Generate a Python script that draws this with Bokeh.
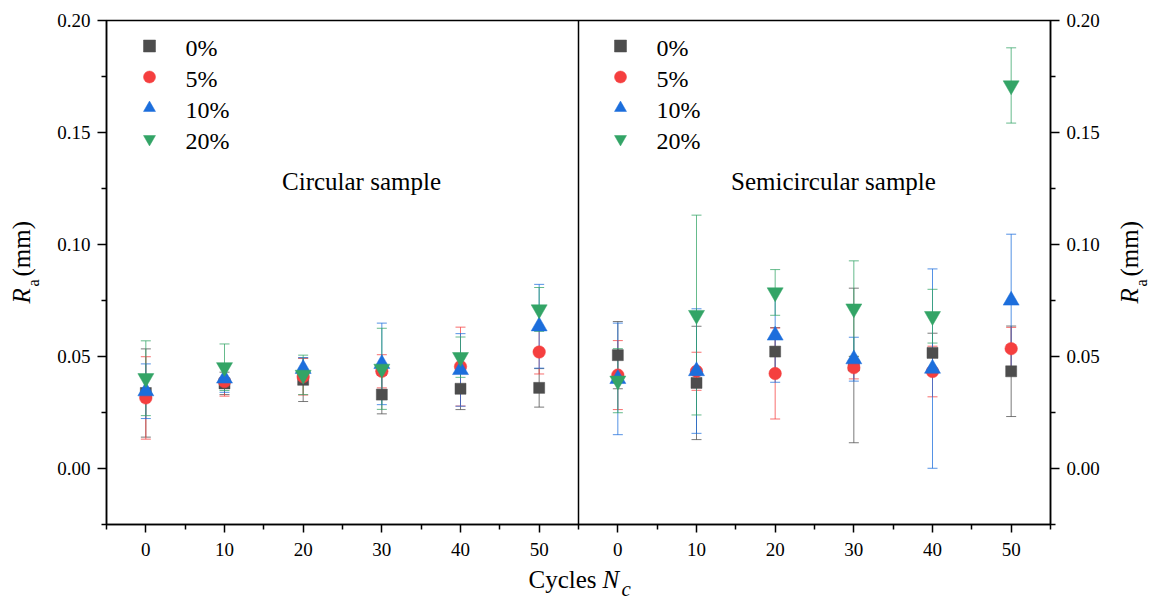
import math
from bokeh.plotting import figure
from bokeh.layouts import row, column
from bokeh.models import (ColumnDataSource, Whisker, TeeHead, Legend, LegendItem, Span, Label,
                          LinearAxis, FixedTicker, PrintfTickFormatter, Range1d)
from bokeh.core.properties import value
from bokeh.embed import file_html
from bokeh.resources import INLINE

# ---------------- data ----------------
cycles = [0, 10, 20, 30, 40, 50]
series_labels = ["0%", "5%", "10%", "20%"]
panel_titles = ["Circular sample", "Semicircular sample"]

# Circular sample: mean Ra (mm) and error (+/-)
circ_0 = [0.0337, 0.0380, 0.0396, 0.0330, 0.0356, 0.0360]
circ_0_err = [0.0197, 0.0050, 0.0097, 0.0086, 0.0093, 0.0086]
circ_5 = [0.0315, 0.0388, 0.0410, 0.0434, 0.0455, 0.0520]
circ_5_err = [0.0184, 0.0065, 0.0082, 0.0074, 0.0176, 0.0098]
circ_10 = [0.0345, 0.0402, 0.0445, 0.0467, 0.0440, 0.0635]
circ_10_err = [0.0122, 0.0062, 0.0050, 0.0182, 0.0162, 0.0187]
circ_20 = [0.0403, 0.0452, 0.0418, 0.0445, 0.0497, 0.0710]
circ_20_err = [0.0167, 0.0104, 0.0088, 0.0181, 0.0090, 0.0098]

# Semicircular sample
semi_0 = [0.0506, 0.0382, 0.0522, 0.0460, 0.0516, 0.0434]
semi_0_err = [0.0150, 0.0253, 0.0107, 0.0345, 0.0088, 0.0202]
semi_5 = [0.0417, 0.0434, 0.0424, 0.0450, 0.0433, 0.0535]
semi_5_err = [0.0154, 0.0085, 0.0203, 0.0050, 0.0113, 0.0095]
semi_10 = [0.0400, 0.0435, 0.0594, 0.0488, 0.0446, 0.0750]
semi_10_err = [0.0249, 0.0278, 0.0209, 0.0098, 0.0445, 0.0296]
semi_20 = [0.0392, 0.0685, 0.0786, 0.0714, 0.0680, 0.1710]
semi_20_err = [0.0143, 0.0446, 0.0102, 0.0213, 0.0120, 0.0168]

y_major_ticks = [0.0, 0.05, 0.10, 0.15, 0.20]
y_minor_ticks = [-0.025, 0.025, 0.075, 0.125, 0.175]

# ---------------- style ----------------
colors = ["#4D4D4D", "#F53F3F", "#1C6EDC", "#33A466"]
markers = ["square", "circle", "triangle", "inverted_triangle"]
marker_sizes = [11, 12.5, 16, 16]
FONT = "Liberation Serif"
PANEL_SHIFT = 60  # second panel drawn on same figure, shifted along x

panels = [
    [(circ_0, circ_0_err), (circ_5, circ_5_err), (circ_10, circ_10_err), (circ_20, circ_20_err)],
    [(semi_0, semi_0_err), (semi_5, semi_5_err), (semi_10, semi_10_err), (semi_20, semi_20_err)],
]

p = figure(width=1059, height=565, x_range=Range1d(-5, 115), y_range=Range1d(-0.025, 0.2),
           output_backend="svg", toolbar_location=None,
           min_border_left=61, min_border_right=54, min_border_top=20, min_border_bottom=41)
p.grid.visible = False
p.outline_line_color = "black"
p.outline_line_width = 1.5
p.background_fill_color = "white"
p.border_fill_color = "white"

# x axis
major_x = [c + k * PANEL_SHIFT for k in range(2) for c in cycles]
minor_x = [c + k * PANEL_SHIFT - 5 for k in range(2) for c in cycles] + [55 + PANEL_SHIFT]
xa = p.xaxis[0]
xa.ticker = FixedTicker(ticks=major_x, minor_ticks=minor_x)
xa.major_label_overrides = {c + k * PANEL_SHIFT: str(c) for k in range(2) for c in cycles}
xa.major_tick_out = 8
xa.major_tick_in = 0
xa.minor_tick_out = 5
xa.minor_tick_in = 0
xa.major_label_standoff = 10

def style_y(ax):
    ax.ticker = FixedTicker(ticks=y_major_ticks, minor_ticks=y_minor_ticks)
    ax.formatter = PrintfTickFormatter(format="%.2f")
    ax.major_tick_out = 9
    ax.major_tick_in = 0
    ax.minor_tick_out = 5
    ax.minor_tick_in = 0
    ax.major_label_standoff = 7

ya = p.yaxis[0]
style_y(ya)
ra = LinearAxis()
style_y(ra)
p.add_layout(ra, "right")
for ax in [xa, ya, ra]:
    ax.major_label_text_font = FONT
    ax.major_label_text_font_size = "19px"
    ax.major_label_text_color = "black"
    ax.major_tick_line_color = "black"
    ax.minor_tick_line_color = "black"
    ax.axis_line_color = "black"
    ax.axis_line_width = 1.5
    ax.major_tick_line_width = 1.5
    ax.minor_tick_line_width = 1.5

# divider between panels
p.add_layout(Span(location=55, dimension="height", line_color="black", line_width=1.5))


def add_label(fig, text, x, y, size, style="normal", angle=0.0, align="left"):
    fig.add_layout(Label(x=x, y=y, x_units="screen", y_units="screen", text=text,
                         text_font=FONT, text_font_size=f"{size}px", text_font_style=style,
                         angle=angle, text_align=align, text_baseline="middle",
                         text_color="black"))


legend_locs = [(28, 370), (499, 370)]      # legend marker boxes (frame px)
legend_text_x = [79, 550]                  # legend text start (frame px)
LEGEND_TEXT_Y0 = 477                       # first legend row centre (frame px)
LEGEND_ROW = 31

for k, panel in enumerate(panels):
    items = []
    xs = [c + k * PANEL_SHIFT for c in cycles]
    for i, (vals, errs) in enumerate(panel):
        src = ColumnDataSource(dict(
            x=xs, y=vals,
            upper=[v + e for v, e in zip(vals, errs)],
            lower=[v - e for v, e in zip(vals, errs)]))
        r = p.scatter("x", "y", source=src, marker=markers[i], size=marker_sizes[i],
                      fill_color=colors[i], line_color=colors[i], line_width=0.5)
        w = Whisker(source=src, base="x", upper="upper", lower="lower", dimension="height",
                    line_color=colors[i], line_alpha=0.75, line_width=1,
                    upper_head=TeeHead(size=10, line_color=colors[i], line_alpha=0.75, line_width=1),
                    lower_head=TeeHead(size=10, line_color=colors[i], line_alpha=0.75, line_width=1))
        p.add_layout(w)
        items.append(LegendItem(label=value(" "), renderers=[r]))
        add_label(p, series_labels[i], legend_text_x[k], LEGEND_TEXT_Y0 - i * LEGEND_ROW, 24)
    lg = Legend(items=items, location=legend_locs[k], orientation="vertical",
                glyph_width=30, glyph_height=31, label_height=31, label_width=1, label_standoff=0,
                spacing=0, padding=0, margin=0, border_line_alpha=0, background_fill_alpha=0,
                label_text_font_size="1px")
    p.add_layout(lg)

# panel titles
add_label(p, panel_titles[0], 255, 343, 25, align="center")
add_label(p, panel_titles[1], 727, 343, 25, align="center")


def blank_fig(w, h):
    f = figure(width=w, height=h, x_range=Range1d(0, 1), y_range=Range1d(0, 1),
               output_backend="svg", toolbar_location=None,
               x_axis_location=None, y_axis_location=None,
               min_border=0, min_border_left=0, min_border_right=0,
               min_border_top=0, min_border_bottom=0)
    f.outline_line_color = None
    f.background_fill_color = "white"
    f.border_fill_color = "white"
    if f.grid:
        f.grid.visible = False
    return f

# y axis labels (left and right); their frames are aligned with the main frame
left_f = blank_fig(45, 565)
right_f = blank_fig(45, 565)
for f, bx in ((left_f, 21), (right_f, 25)):
    add_label(f, "R", bx, 221, 25, style="italic", angle=math.pi / 2)
    add_label(f, "a", bx + 12, 238, 16, angle=math.pi / 2)
    add_label(f, "(mm)", bx, 248, 25, angle=math.pi / 2)

# x axis label
bottom_f = blank_fig(1149, 36)
add_label(bottom_f, "Cycles", 528, 22, 25)
add_label(bottom_f, "N", 602, 22, 25, style="italic")
add_label(bottom_f, "c", 621, 13, 21, style="italic")

layout = column(row(left_f, p, right_f, spacing=0), bottom_f, spacing=0)
open("out.html", "w").write(file_html(layout, INLINE))
